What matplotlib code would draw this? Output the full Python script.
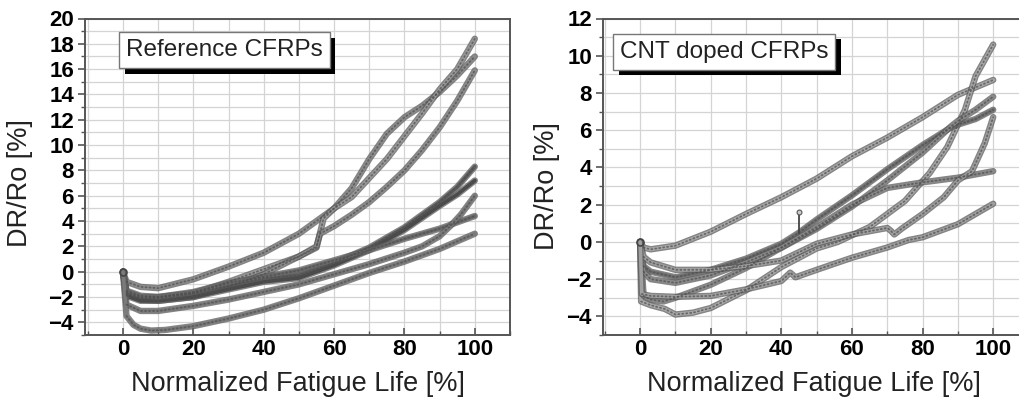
import matplotlib
matplotlib.use('Agg')
import matplotlib.pyplot as plt
import matplotlib.patheffects as pe
from matplotlib.ticker import MultipleLocator

plt.rcParams['font.family'] = ['Liberation Sans', 'DejaVu Sans']

# Reference CFRPs: (x, y) per specimen
ref_x1 = [0, 1, 5, 10, 20, 30, 40, 50, 60, 65, 70, 75, 80, 85, 90, 95, 100]
ref_y1 = [0, -0.8, -1.2, -1.3, -0.6, 0.4, 1.5, 3.0, 5.0, 6.6, 8.9, 10.9, 12.2, 13.1, 14.2, 15.5, 17.0]
ref_x2 = [0, 1, 5, 10, 20, 30, 40, 50, 55, 57, 60, 65, 70, 75, 80, 85, 90, 95, 100]
ref_y2 = [0, -1.6, -2.0, -2.0, -1.7, -0.8, 0.2, 1.2, 1.9, 4.2, 5.0, 5.9, 7.4, 8.9, 10.7, 12.5, 14.4, 16.0, 18.4]
ref_x3 = [0, 1, 5, 10, 20, 30, 40, 50, 55, 56, 60, 65, 70, 75, 80, 85, 90, 95, 100]
ref_y3 = [0, -1.8, -2.2, -2.3, -2.0, -1.2, -0.2, 1.2, 2.0, 3.0, 3.6, 4.5, 5.5, 6.7, 8.0, 9.6, 11.4, 13.5, 15.9]
ref_x4 = [0, 1, 5, 10, 20, 30, 40, 50, 60, 70, 80, 90, 95, 100]
ref_y4 = [0, -1.7, -2.1, -2.1, -1.7, -1.1, -0.5, -0.3, 0.7, 1.9, 3.5, 5.5, 6.7, 8.3]
ref_y5 = [0, -1.9, -2.3, -2.3, -2.0, -1.4, -0.8, -0.5, 0.5, 1.7, 3.3, 5.2, 6.1, 7.2]
ref_x6 = [0, 1, 5, 10, 20, 30, 40, 50, 60, 70, 80, 90, 100]
ref_y6 = [0, -1.5, -1.9, -2.0, -1.6, -0.9, -0.4, 0.1, 0.9, 1.7, 2.6, 3.4, 4.4]
ref_x7 = [0, 1, 5, 10, 20, 30, 40, 50, 60, 70, 80, 85, 90, 93, 96, 100]
ref_y7 = [0, -2.6, -3.1, -3.1, -2.7, -2.2, -1.6, -1.0, -0.2, 0.6, 1.5, 2.0, 2.8, 3.6, 4.5, 6.0]
ref_x8 = [0, 1, 3, 5, 8, 12, 20, 30, 40, 50, 60, 70, 80, 90, 100]
ref_y8 = [0, -3.5, -4.2, -4.5, -4.65, -4.6, -4.3, -3.7, -3.0, -2.1, -1.1, -0.1, 0.8, 1.8, 3.0]

# CNT doped CFRPs
cnt_x1 = [0, 1, 3, 10, 20, 30, 40, 50, 60, 70, 80, 90, 95, 100]
cnt_y1 = [0, -0.3, -0.4, -0.2, 0.55, 1.5, 2.4, 3.4, 4.6, 5.6, 6.7, 7.9, 8.3, 8.7]
cnt_x2 = [0, 0.3, 3, 7, 10, 15, 20, 30, 40, 50, 56, 65, 75, 82, 87, 92, 95, 100]
cnt_y2 = [0, -3.2, -3.4, -3.6, -3.9, -3.8, -3.55, -2.6, -1.35, -0.35, 0.0, 0.8, 2.2, 3.7, 5.1, 7.1, 8.9, 10.6]
cnt_x3 = [0, 1, 3, 10, 20, 30, 40, 45, 50, 60, 70, 80, 87.6, 90, 95, 100]
cnt_y3 = [0, -1.3, -1.6, -1.9, -1.5, -0.9, -0.1, 0.5, 1.2, 2.5, 3.9, 5.2, 6.1, 6.3, 6.6, 7.1]
cnt_x4 = [0, 1, 3, 6.6, 10, 20, 30, 38.7, 50, 60, 70, 80, 88, 90, 95, 100]
cnt_y4 = [0, -2.9, -3.1, -3.2, -3.0, -2.3, -1.4, -0.45, 0.7, 1.9, 3.3, 4.8, 6.2, 6.5, 7.1, 7.8]
cnt_x5 = [0, 1, 3, 10, 20, 30, 40, 50, 60, 70, 80, 90, 100]
cnt_y5 = [0, -1.6, -2.0, -2.2, -1.8, -1.1, -0.3, 0.8, 2.0, 2.9, 3.2, 3.45, 3.8]
cnt_x6 = [0, 1, 3, 10, 20, 30, 40, 50, 60, 70, 71, 72, 74, 80, 86, 90, 94, 97.6, 100]
cnt_y6 = [0, -0.8, -1.1, -1.5, -1.5, -1.3, -1.0, -0.1, 0.4, 0.75, 0.6, 0.4, 0.7, 1.5, 2.4, 3.3, 3.8, 5.3, 6.7]
cnt_x7 = [0, 0.5, 3, 10, 20, 30, 40, 42.5, 44, 50, 60, 70, 76, 80, 90, 100]
cnt_y7 = [0, -2.8, -2.9, -2.95, -2.9, -2.55, -2.1, -1.65, -1.9, -1.5, -0.85, -0.3, 0.1, 0.25, 0.95, 2.05]
# single outlier reading on the dark band
spike_x = [45, 45]
spike_y = [0.5, 1.6]

ref_curves = [(ref_x1, ref_y1, '#8c8c8c'), (ref_x2, ref_y2, '#9a9a9a'), (ref_x3, ref_y3, '#8c8c8c'),
              (ref_x4, ref_y4, '#5a5a5a'), (ref_x4, ref_y5, '#4a4a4a'), (ref_x6, ref_y6, '#6a6a6a'),
              (ref_x7, ref_y7, '#7a7a7a'), (ref_x8, ref_y8, '#7a7a7a')]
cnt_curves = [(cnt_x1, cnt_y1, '#a8a8a8'), (cnt_x2, cnt_y2, '#a8a8a8'), (cnt_x3, cnt_y3, '#707070'),
              (cnt_x4, cnt_y4, '#8a8a8a'), (cnt_x5, cnt_y5, '#8a8a8a'), (cnt_x6, cnt_y6, '#a0a0a0'),
              (cnt_x7, cnt_y7, '#a0a0a0')]


def style_axes(ax, xlim, ylim, label, box_xy):
    ax.set_xlim(*xlim)
    ax.set_ylim(*ylim)
    ax.xaxis.set_major_locator(MultipleLocator(20))
    ax.xaxis.set_minor_locator(MultipleLocator(10))
    ax.yaxis.set_major_locator(MultipleLocator(2))
    ax.yaxis.set_minor_locator(MultipleLocator(1))
    ax.grid(which='both', color='#d4d4d4', lw=0.9)
    ax.set_axisbelow(True)
    for s in ax.spines.values():
        s.set_color('#555555')
        s.set_linewidth(1.4)
    ax.tick_params(axis='x', which='major', direction='in', length=5, width=1.2, color='#555555',
                   pad=3, labelsize=16)
    ax.tick_params(axis='x', which='minor', direction='in', length=3, width=1, color='#555555')
    ax.tick_params(axis='y', which='major', direction='out', length=5, width=1.2, color='#555555',
                   pad=3, labelsize=16)
    ax.tick_params(axis='y', which='minor', direction='out', length=3, width=1, color='#555555')
    for t in ax.get_xticklabels() + ax.get_yticklabels():
        t.set_fontweight('bold')
    ax.set_xlabel('Normalized Fatigue Life [%]', fontsize=19.5, color='#222222')
    ax.set_ylabel('DR/Ro [%]', fontsize=19.5, color='#222222')
    ax.xaxis.set_label_coords(0.5, -0.115)
    txt = ax.text(box_xy[0], box_xy[1], label, transform=ax.transAxes, fontsize=17.5, ha='left',
                  va='center', color='#222222', zorder=5,
                  bbox=dict(boxstyle='square,pad=0.28', fc='white', ec='#777777', lw=1))
    txt.get_bbox_patch().set_path_effects([pe.withSimplePatchShadow(offset=(4, -4), shadow_rgbFace='black',
                                                                    alpha=1.0)])


def draw_curves(ax, curves):
    for x, y, c in curves:
        ax.plot(x, y, color=c, lw=2.6, solid_capstyle='round', solid_joinstyle='round', zorder=3,
                path_effects=[pe.Stroke(linewidth=4.6, foreground='#5c5c5c', alpha=0.75), pe.Normal()])
        # beaded texture of the dense hollow-circle markers
        ax.plot(x[1:], y[1:], color='#4e4e4e', lw=1.3, ls=(0, (0.6, 1.6)), dash_capstyle='round',
                alpha=0.7, zorder=4)
    ax.plot([0], [0], 'o', ms=5, mfc='none', mec='#444444', mew=1.2, zorder=4)


fig = plt.figure(figsize=(10.2, 4.03), dpi=100)
ax1 = fig.add_axes([85 / 1020, 68 / 403, 425 / 1020, 316.5 / 403])
ax2 = fig.add_axes([603 / 1020, 68 / 403, 422 / 1020, 316.5 / 403])

draw_curves(ax1, ref_curves)
draw_curves(ax2, cnt_curves)
ax2.plot(spike_x, spike_y, color='#444444', lw=1.3, zorder=4)
ax2.plot(spike_x[-1:], spike_y[-1:], 'o', ms=3.5, mfc='#cccccc', mec='#555555', mew=0.8, zorder=4)
style_axes(ax1, (-10.8, 110), (-5, 20), 'Reference CFRPs', (0.097, 0.90))
style_axes(ax2, (-10.5, 109), (-5, 12), 'CNT doped CFRPs', (0.04, 0.895))
ax1.yaxis.set_label_coords(-0.122, 0.48)
ax2.yaxis.set_label_coords(-0.102, 0.47)

fig.savefig('out.png', dpi=100)
